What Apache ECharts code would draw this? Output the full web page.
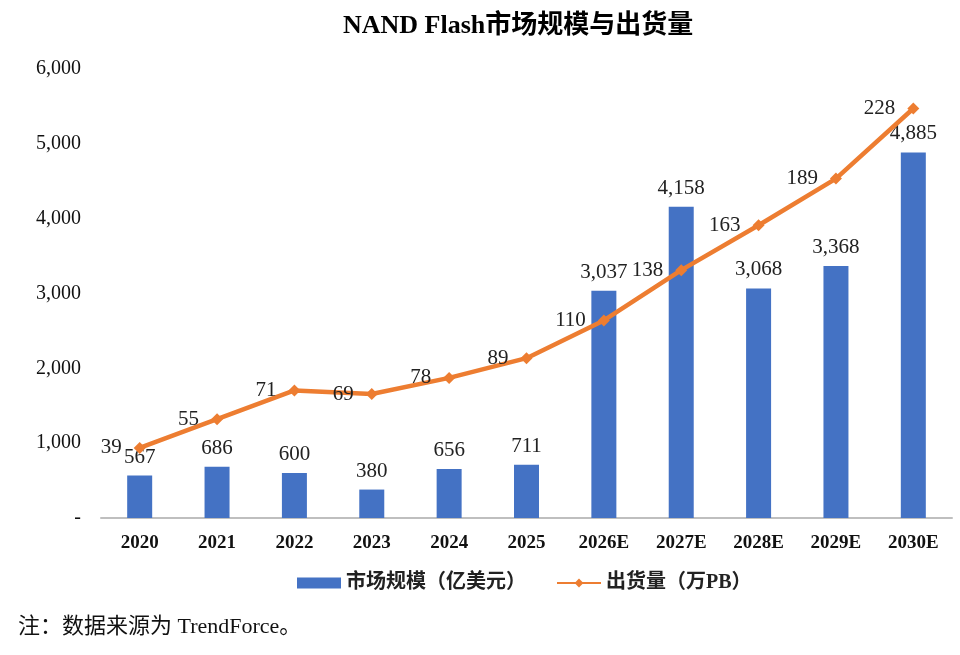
<!DOCTYPE html>
<html>
<head>
<meta charset="utf-8">
<script src="https://cdn.jsdelivr.net/npm/echarts@6/dist/echarts.min.js"></script>
<style>
  html, body { margin: 0; padding: 0; background: #fff; }
  #main { width: 960px; height: 655px; }
</style>
</head>
<body>
<div id="main"></div>
<script>
// 数据
const years = ['2020', '2021', '2022', '2023', '2024', '2025', '2026E', '2027E', '2028E', '2029E', '2030E']
const marketSize = [567, 686, 600, 380, 656, 711, 3037, 4158, 3068, 3368, 4885]
const shipments = [39, 55, 71, 69, 78, 89, 110, 138, 163, 189, 228]
const yTicks = ['-', '1,000', '2,000', '3,000', '4,000', '5,000', '6,000']

const serif = '"Liberation Serif", "Times New Roman", "Noto Sans CJK SC", serif'

const myChart = echarts.init(document.getElementById('main'))
myChart.setOption({
  title: {
    text: 'NAND Flash市场规模与出货量',
    left: 338,
    top: 8,
    textStyle: { fontFamily: serif, fontSize: 26, fontWeight: 'bold', color: '#000' }
  },
  legend: {
    bottom: 57,
    left: 292,
    itemGap: 30,
    itemWidth: 44,
    itemHeight: 11,
    textStyle: { fontFamily: serif, fontSize: 20, fontWeight: 'bold', color: '#222' },
    data: [
      { name: '市场规模（亿美元）', icon: 'rect' },
      { name: '出货量（万PB）' }
    ]
  },
  grid: { left: 101, right: 8, top: 69, bottom: 137 },
  xAxis: {
    type: 'category',
    data: years,
    axisTick: { show: false },
    axisLine: { lineStyle: { color: '#bfbfbf', width: 2 } },
    axisLabel: { fontFamily: serif, fontSize: 19, fontWeight: 'bold', color: '#111', margin: 16 }
  },
  yAxis: [
    {
      type: 'value',
      min: 0,
      max: 6000,
      interval: 1000,
      splitLine: { show: false },
      axisLine: { show: false },
      axisTick: { show: false },
      axisLabel: {
        fontFamily: serif, fontSize: 20, color: '#111', margin: 20,
        formatter: v => yTicks[v / 1000]
      }
    },
    {
      type: 'value',
      min: 0,
      max: 250,
      show: false
    }
  ],
  series: [
    {
      name: '市场规模（亿美元）',
      type: 'bar',
      data: marketSize,
      barWidth: 25,
      itemStyle: { color: '#4472C4' },
      label: {
        show: true,
        position: 'top',
        distance: 8,
        fontFamily: serif, fontSize: 21, color: '#222',
        formatter: p => p.value.toLocaleString('en-US')
      }
    },
    {
      name: '出货量（万PB）',
      type: 'line',
      yAxisIndex: 1,
      data: shipments,
      symbol: 'diamond',
      symbolSize: 12,
      lineStyle: { color: '#ED7D31', width: 4.5 },
      itemStyle: { color: '#ED7D31' },
      label: {
        show: true,
        position: 'left',
        distance: 12,
        fontFamily: serif, fontSize: 21, color: '#222'
      },
      z: 3
    }
  ],
  graphic: [
    {
      type: 'text',
      left: 18,
      top: 616,
      style: { text: '注：数据来源为 TrendForce。', font: '22px ' + serif, fill: '#111' }
    }
  ]
})
</script>
</body>
</html>
